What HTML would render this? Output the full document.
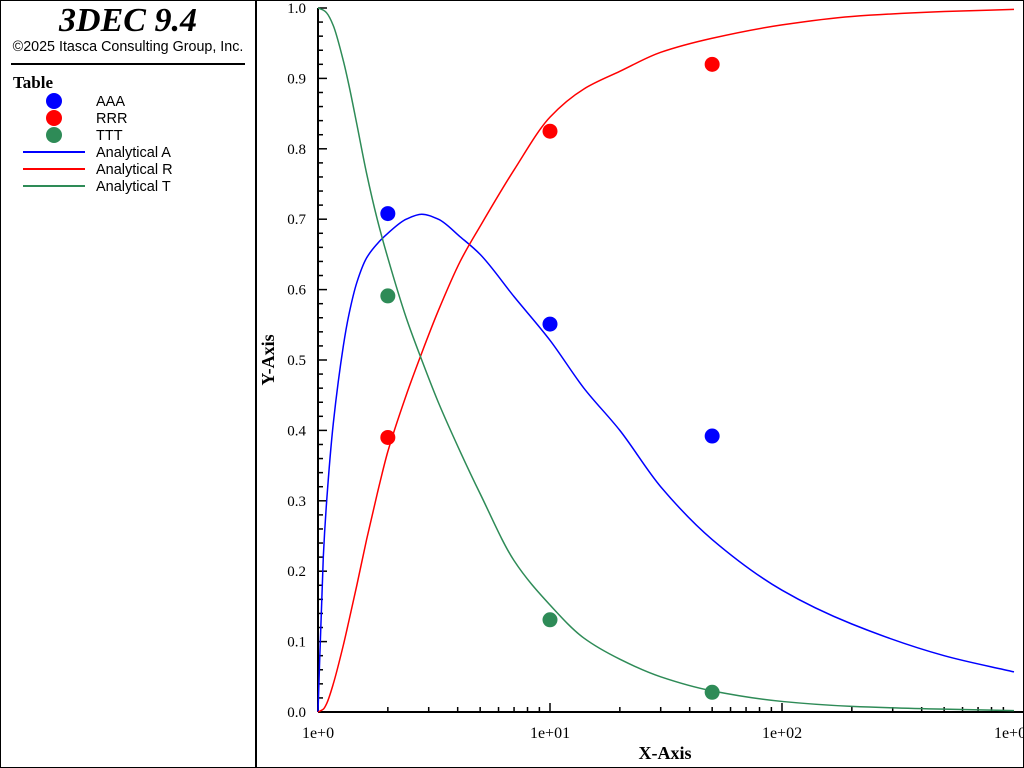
<!DOCTYPE html>
<html><head><meta charset="utf-8"><style>
body{margin:0;background:#fff;}
svg{display:block;}
.s{font-family:"Liberation Sans",sans-serif;}
.r{font-family:"Liberation Serif",serif;}
</style></head><body>
<svg width="1024" height="768">
<rect x="0.5" y="0.5" width="1023" height="767" fill="#fff" stroke="#000"/>
<line x1="256" y1="0" x2="256" y2="768" stroke="#000" stroke-width="2"/>
<g>
<text x="128" y="31" text-anchor="middle" class="r" font-size="34" font-weight="bold" font-style="italic">3DEC 9.4</text>
<text x="128" y="51" text-anchor="middle" class="s" font-size="14.3">©2025 Itasca Consulting Group, Inc.</text>
<line x1="11" y1="64" x2="245" y2="64" stroke="#000" stroke-width="2"/>
<text x="13" y="88" class="r" font-size="17" font-weight="bold">Table</text>
<g><circle cx="54" cy="101" r="8" fill="#0000ff"/><text x="96" y="106" class="s" font-size="14.5">AAA</text></g>
<g><circle cx="54" cy="118" r="8" fill="#ff0000"/><text x="96" y="123" class="s" font-size="14.5">RRR</text></g>
<g><circle cx="54" cy="135" r="8" fill="#2e8b57"/><text x="96" y="140" class="s" font-size="14.5">TTT</text></g>
<g><line x1="23" y1="152" x2="85" y2="152" stroke="#0000ff" stroke-width="2"/><text x="96" y="157" class="s" font-size="14.5">Analytical A</text></g>
<g><line x1="23" y1="169" x2="85" y2="169" stroke="#ff0000" stroke-width="2"/><text x="96" y="174" class="s" font-size="14.5">Analytical R</text></g>
<g><line x1="23" y1="186" x2="85" y2="186" stroke="#2e8b57" stroke-width="2"/><text x="96" y="191" class="s" font-size="14.5">Analytical T</text></g>
</g>
<g id="axes"></g>
<g id="curves"></g>
<g id="points"></g>
<text x="665" y="759" text-anchor="middle" class="r" font-size="18" font-weight="bold">X-Axis</text>
<text transform="translate(274,360) rotate(-90)" text-anchor="middle" class="r" font-size="18" font-weight="bold">Y-Axis</text>
</svg>
<script>
const curveX=[1,1.054,1.09,1.164,1.286,1.36,1.47,1.62,1.8,2,2.4,2.8,3.3,4.1,5,7,10,14,20,30,50,100,200,500,1000];
const curveA=[0,0.22,0.30,0.41,0.52,0.565,0.61,0.645,0.665,0.68,0.70,0.707,0.70,0.675,0.65,0.59,0.528,0.46,0.40,0.32,0.245,0.173,0.125,0.08,0.057];
const curveR=[0,0.004,0.012,0.04,0.095,0.13,0.18,0.245,0.31,0.37,0.45,0.51,0.57,0.64,0.69,0.77,0.845,0.885,0.91,0.937,0.957,0.976,0.988,0.995,0.998];
const curveT=[1,0.997,0.993,0.975,0.925,0.89,0.835,0.765,0.70,0.645,0.56,0.50,0.44,0.37,0.31,0.215,0.152,0.105,0.075,0.05,0.03,0.015,0.008,0.004,0.002];
const pointX=[2,10,50];
const pointA=[0.708,0.551,0.392];
const pointR=[0.39,0.825,0.92];
const pointT=[0.591,0.131,0.028];
const xTicks=[1,10,100,1000];
const xTickLabels=["1e+0","1e+01","1e+02","1e+03"];
const yTicks=[0,0.1,0.2,0.3,0.4,0.5,0.6,0.7,0.8,0.9,1.0];
const yTickLabels=["0.0","0.1","0.2","0.3","0.4","0.5","0.6","0.7","0.8","0.9","1.0"];
const X0=318,X1=1014,Y0=712,Y1=8;
function sx(v){return X0+(Math.log10(v)/3)*(X1-X0);}
function sy(v){return Y0-v*(Y0-Y1);}
const NS="http://www.w3.org/2000/svg";
function mk(tag,attrs,parent){const e=document.createElementNS(NS,tag);for(const k in attrs)e.setAttribute(k,attrs[k]);parent.appendChild(e);return e;}
const ax=document.getElementById('axes');
let l=mk('line',{x1:X0,y1:Y1,x2:X0,y2:Y0,stroke:'#000','stroke-width':2},ax);


l=mk('line',{x1:X0,y1:Y0,x2:1024,y2:Y0,stroke:'#000','stroke-width':2},ax);


for(let i=0;i<=50;i++){const v=i/50;const major=i%5===0;
 mk('line',{x1:X0,y1:sy(v),x2:X0+(major?9:5),y2:sy(v),stroke:'#000','stroke-width':1.5},ax);}
yTicks.forEach((v,i)=>{const t=mk('text',{x:X0-12,y:sy(v)+5,'text-anchor':'end','class':'r','font-size':15},ax);t.textContent=yTickLabels[i];
 
 });
for(let d=0;d<3;d++)for(let m=1;m<=9;m++){const v=m*Math.pow(10,d);
 mk('line',{x1:sx(v),y1:Y0,x2:sx(v),y2:Y0-(m===1?9:5),stroke:'#000','stroke-width':1.5},ax);}
xTicks.forEach((v,i)=>{const t=mk('text',{x:sx(v),y:738,'text-anchor':'middle','class':'r','font-size':16},ax);t.textContent=xTickLabels[i];
 
 });
function pathFor(ys){const p=curveX.map((x,i)=>[sx(x),sy(ys[i])]);
 const n=p.length,m=[];
 for(let i=0;i<n;i++){let s;
  if(i===0)s=(p[1][1]-p[0][1])/(p[1][0]-p[0][0]);
  else if(i===n-1)s=(p[n-1][1]-p[n-2][1])/(p[n-1][0]-p[n-2][0]);
  else{const a=(p[i][1]-p[i-1][1])/(p[i][0]-p[i-1][0]),b=(p[i+1][1]-p[i][1])/(p[i+1][0]-p[i][0]);s=(a*b<=0)?0:2/(1/a+1/b);}
  m.push(s);}
 let d='M'+p[0][0]+','+p[0][1];
 for(let i=0;i<n-1;i++){const h=(p[i+1][0]-p[i][0])/3;
  d+=' C'+(p[i][0]+h)+','+(p[i][1]+m[i]*h)+' '+(p[i+1][0]-h)+','+(p[i+1][1]-m[i+1]*h)+' '+p[i+1][0]+','+p[i+1][1];}
 return d;}
const cv=document.getElementById('curves');
[[curveA,'#0000ff','analytical-a-line'],[curveR,'#ff0000','analytical-r-line'],[curveT,'#2e8b57','analytical-t-line']].forEach(s=>{
 const p=mk('path',{d:pathFor(s[0]),fill:'none',stroke:s[1],'stroke-width':1.5},cv);
 
 });
const pt=document.getElementById('points');
[[pointA,'#0000ff','point-aaa'],[pointR,'#ff0000','point-rrr'],[pointT,'#2e8b57','point-ttt']].forEach(s=>{
 pointX.forEach((x,i)=>{const c=mk('circle',{cx:sx(x),cy:sy(s[0][i]),r:7.5,fill:s[1]},pt);
 
 });});
</script>
</body></html>
